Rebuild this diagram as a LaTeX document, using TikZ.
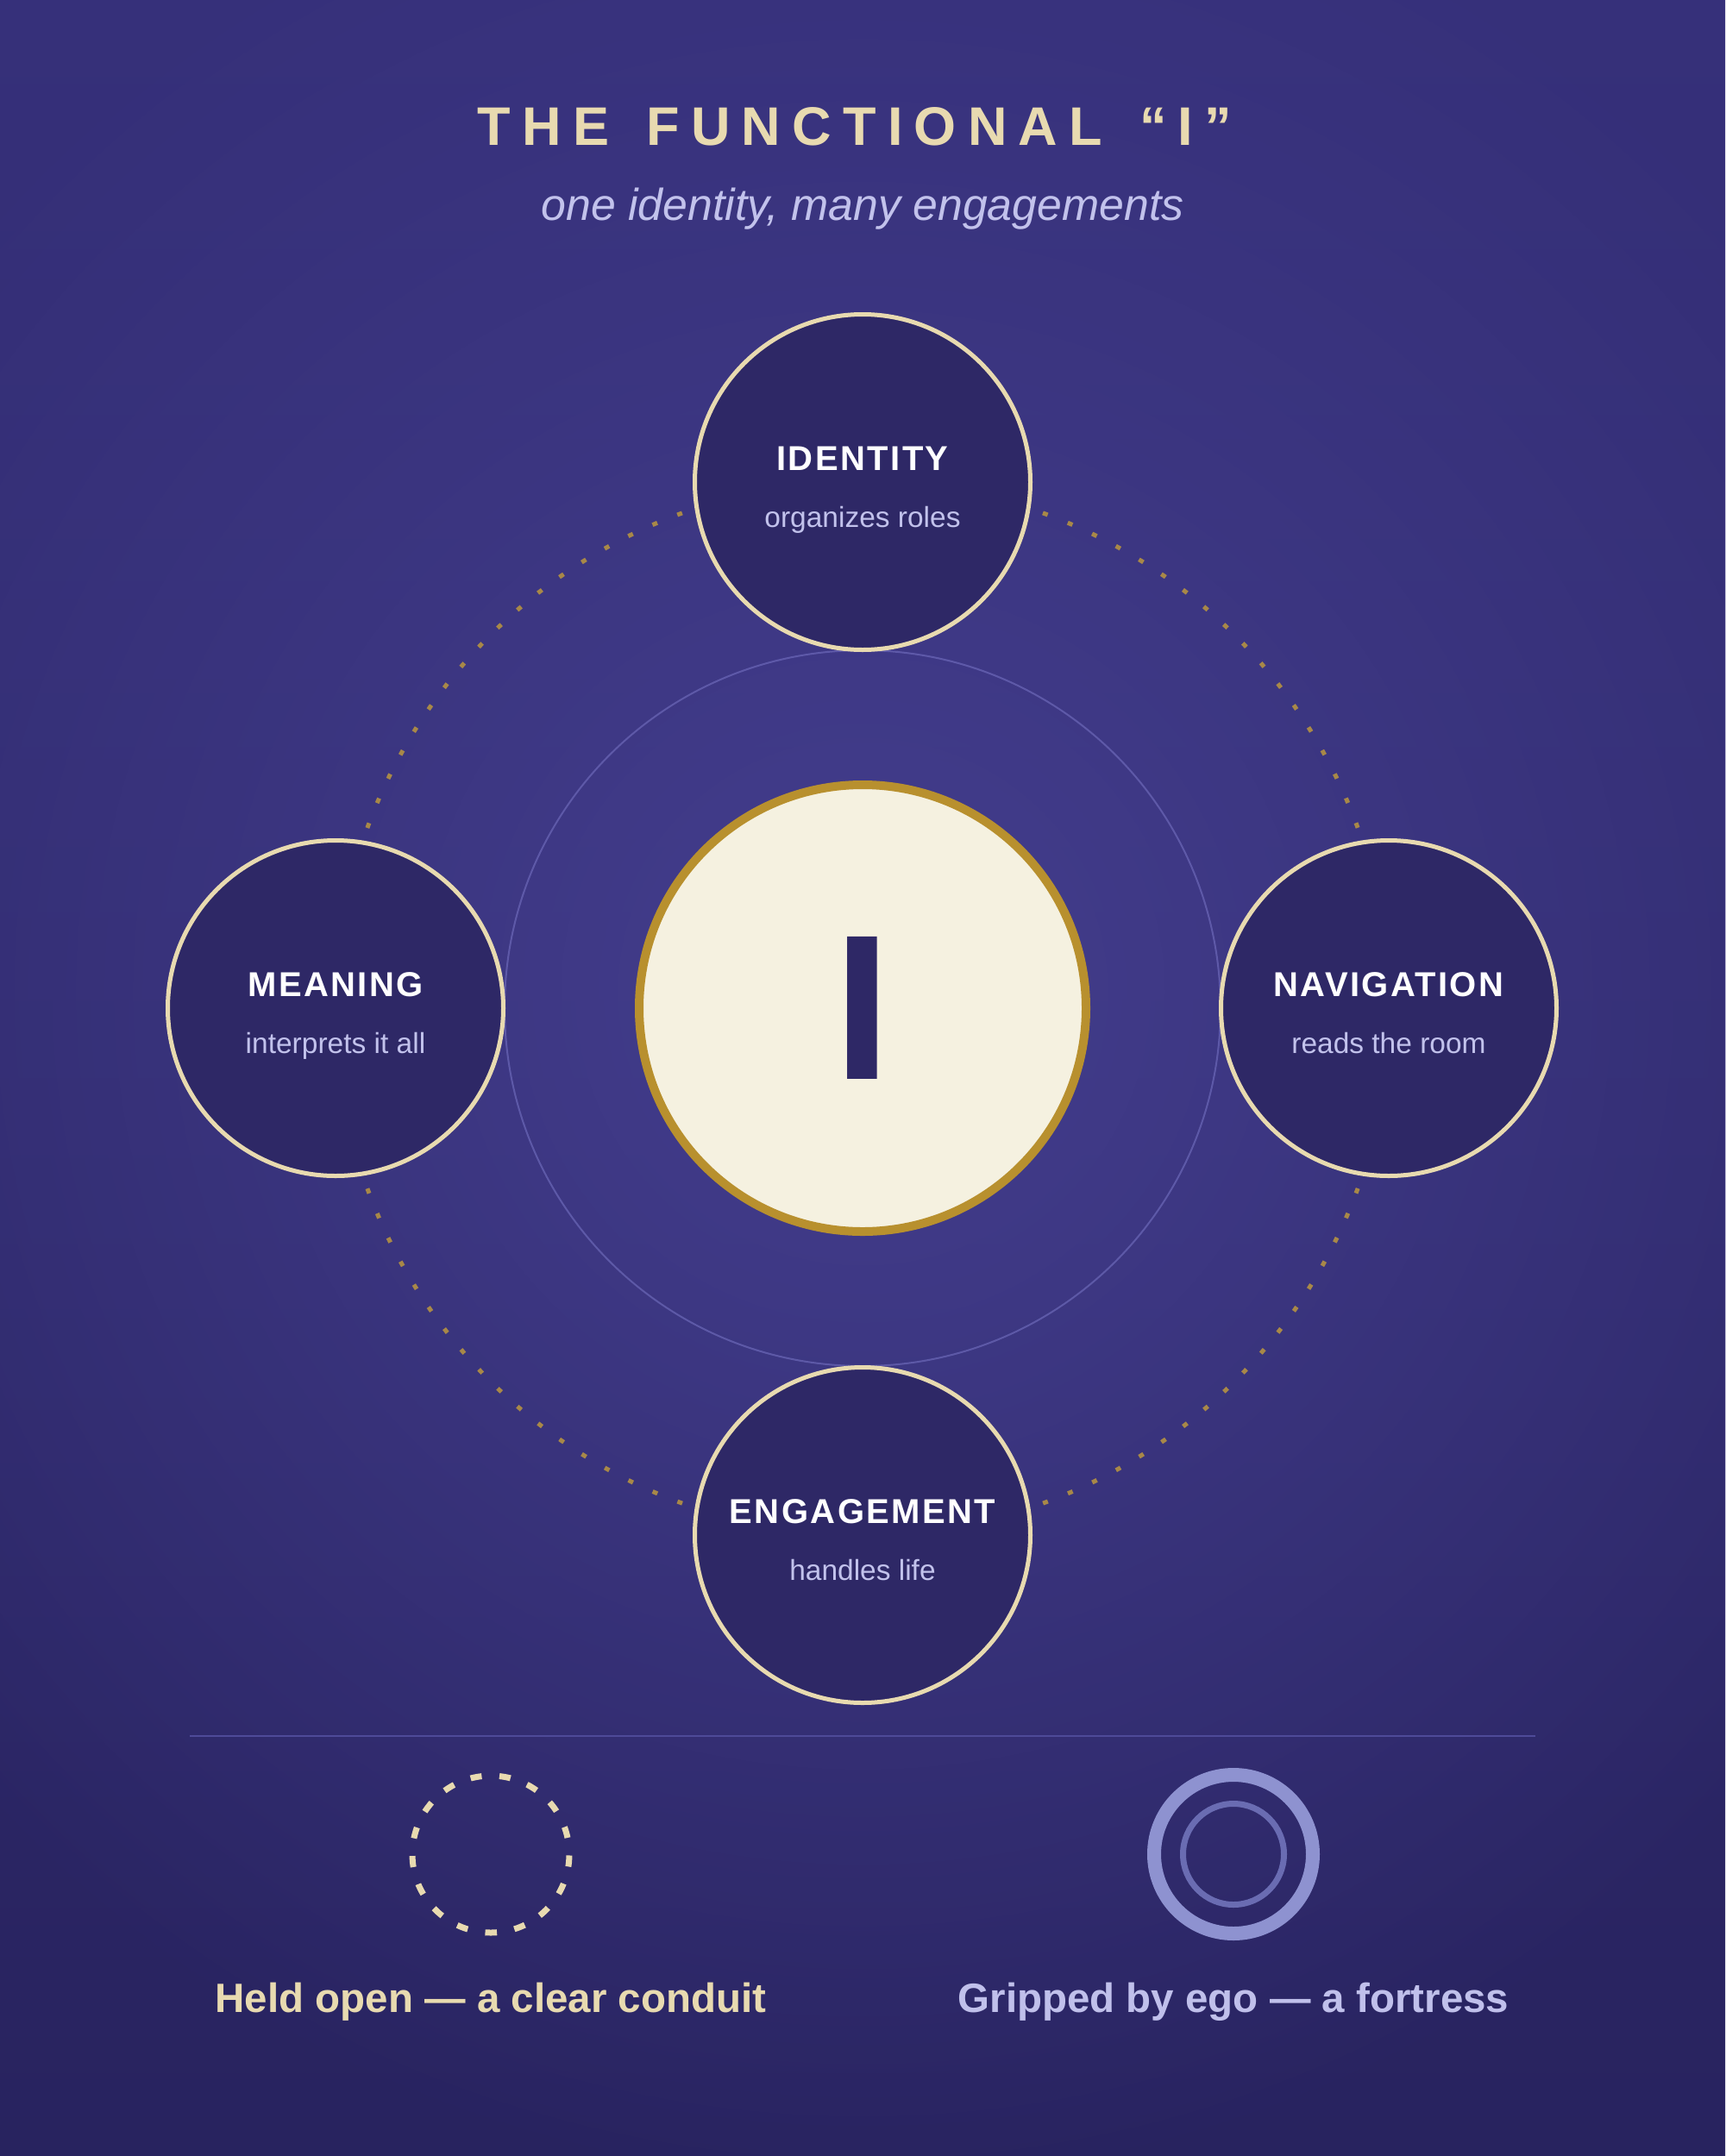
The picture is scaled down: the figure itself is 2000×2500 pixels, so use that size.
\documentclass[tikz,border=0pt]{standalone}
\usepackage{fontspec}
\setmainfont{Liberation Sans}
\newfontfamily\titlefont[LetterSpace=21]{Liberation Sans}
\newfontfamily\capsfont[LetterSpace=6]{Liberation Sans}
\usetikzlibrary{fadings}
\tikzfading[name=glowfade, inner color=transparent!0, outer color=transparent!100]
\definecolor{bgtop}{HTML}{36307A}
\definecolor{bgmid}{HTML}{37327C}
\definecolor{bgbot}{HTML}{28235F}
\definecolor{glow}{HTML}{443E8E}
\definecolor{cream}{HTML}{E8DAB0}
\definecolor{satfill}{HTML}{2E2866}
\definecolor{lavender}{HTML}{C2C2EC}
\definecolor{gold}{HTML}{A88848}
\definecolor{ochre}{HTML}{B8902E}
\definecolor{ivory}{HTML}{F5F1E0}
\definecolor{ringcol}{HTML}{6C68B8}
\definecolor{rulecol}{HTML}{4E4A98}
\definecolor{fortout}{HTML}{8E92D0}
\definecolor{fortin}{HTML}{6A6CB2}
\begin{document}
\begin{tikzpicture}[x=1pt, y=-1pt,
    sat/.style={circle, draw=cream, line width=5pt, fill=satfill, minimum size=389pt, inner sep=0pt},
    satname/.style={anchor=base, text=white, font=\capsfont\bfseries\fontsize{40}{40}\selectfont},
    satnote/.style={anchor=base, text=lavender, font=\fontsize{33.5}{34}\selectfont},
    orbit/.style={draw=gold, line width=5pt, dash pattern=on 6pt off 25pt},
    core/.style={circle, fill=ivory, draw=ochre, line width=10pt, minimum size=518pt, inner sep=0pt,
        text=satfill, font=\bfseries\fontsize{240}{240}\selectfont}]
    \useasboundingbox (0,0) rectangle (2000,2500);
    % background
    \shade[top color=bgtop, middle color=bgmid, bottom color=bgbot] (0,0) rectangle (2000,2500);
    \fill[glow, path fading=glowfade] (1000,1150) circle (1400);
    % title
    \node[anchor=base, text=cream, font=\titlefont\bfseries\fontsize{63}{63}\selectfont] (title) at (991,168)
        {THE\hspace{12.5pt} FUNCTIONAL\hspace{12.5pt} “I”};
    \node[anchor=base, text=lavender, font=\itshape\fontsize{51.8}{52}\selectfont] (subtitle) at (1000,255) {one identity, many engagements};
    % orbit and ring
    \coordinate (hub) at (1000,1169);
    \foreach \a in {0,90,180,270}
        \draw[orbit] (hub) ++(\a+20:611) arc (\a+20:\a+70:611);
    \draw[ringcol, line width=2pt, opacity=0.7] (hub) circle (415);
    % the four engagements
    \foreach \nm/\px/\py/\ttl/\sub in {idn/1000/559/IDENTITY/organizes roles, nav/1610/1169/NAVIGATION/reads the room,
        eng/1000/1780/ENGAGEMENT/handles life, mng/389/1169/MEANING/interprets it all} {
        \node[sat] (\nm) at (\px,\py) {};
        \node[satname] (\nm-t) at ([yshift=14pt]\nm.center) {\ttl};
        \node[satnote] (\nm-s) at ([yshift=-52pt]\nm.center) {\sub};
    }
    \node[core] (I) at (hub) {I};
    % legend
    \draw[rulecol, line width=2pt] (220,2013) -- (1780,2013);
    \draw[cream, line width=7pt, dash pattern=on 13pt off 20.6pt, dash phase=6.5pt] (569,2150) ++(0,91) arc (90:450:91);
    \draw[fortout, line width=16pt] (1430,2150) circle (92);
    \draw[fortin, line width=7pt] (1430,2150) circle (58.5);
    \node[anchor=base, text=cream, font=\bfseries\fontsize{47.5}{48}\selectfont] (openlbl) at (569,2333) {Held open — a clear conduit};
    \node[anchor=base, text=lavender!95!fortout, font=\bfseries\fontsize{47.5}{48}\selectfont] (egolbl) at (1430,2333) {Gripped by ego — a fortress};
\end{tikzpicture}
\end{document}
